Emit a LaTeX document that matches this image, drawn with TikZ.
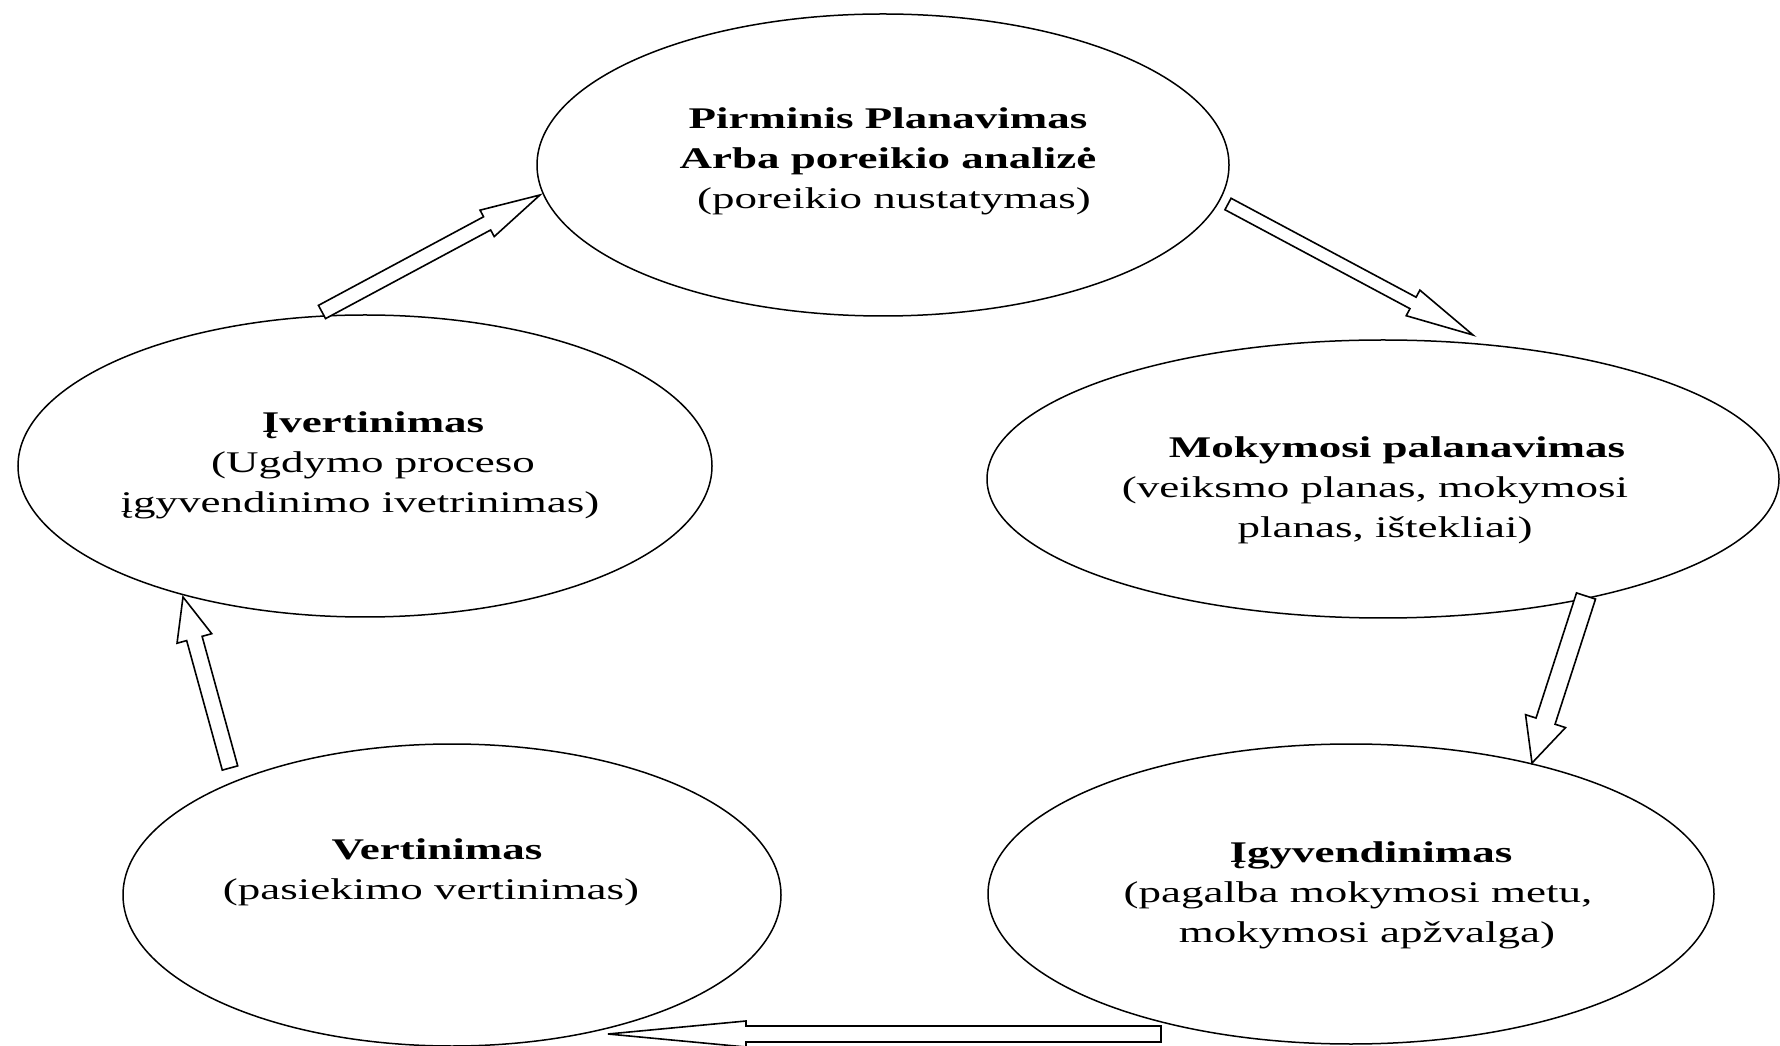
\documentclass[tikz,border=0pt]{standalone}
\usepackage{fontspec}
\setmainfont{Liberation Serif}[FakeStretch=1.5]
\usetikzlibrary{shapes.geometric,calc}
\newcommand\blockarr[5]{%
  \path ($(#2)!#5!(#1)$) coordinate (hb);
  \draw[blockarrow] ($(#1)!#3!90:(#2)$) -- ($(hb)!#3!90:(#2)$) -- ($(hb)!#4!90:(#2)$) -- (#2)
    -- ($(hb)!#4!-90:(#2)$) -- ($(hb)!#3!-90:(#2)$) -- ($(#1)!#3!-90:(#2)$) -- cycle;
}
\tikzset{
  ell/.style={ellipse, draw, line width=1.5pt, inner sep=0pt},
  txt/.style={align=center, inner sep=0pt, font=\fontsize{30}{40}\selectfont},
  blockarrow/.style={draw, line width=1.6pt, fill=white, line join=miter}
}
\begin{document}
\begin{tikzpicture}[x=1pt,y=1pt]
\fill[white] (0,0) rectangle (1780,1045);
\useasboundingbox (0,0) rectangle (1780,1045);
% ellipses
\node[ell, minimum width=692pt, minimum height=302pt] (top) at (883,880) {};
\node[ell, minimum width=694pt, minimum height=302pt] (left) at (365,579) {};
\node[ell, minimum width=792pt, minimum height=278pt] (right) at (1383,566) {};
\node[ell, minimum width=658pt, minimum height=302pt] (bl) at (452,150) {};
\node[ell, minimum width=726pt, minimum height=300pt] (br) at (1351,151) {};
% texts
\node[txt] (ttop) at (888,884) {\textbf{Pirminis Planavimas}\\\textbf{Arba poreikio analizė}\\\hspace*{12pt}(poreikio nustatymas)};
\node[txt] (tleft) at (360,580) {\hspace*{26pt}\textbf{Įvertinimas}\\\hspace*{26pt}(Ugdymo proceso\\įgyvendinimo ivetrinimas)};
\node[txt] (tright) at (1375,555) {\hspace*{44pt}\textbf{Mokymosi palanavimas}\\(veiksmo planas, mokymosi\\\hspace*{20pt}planas, ištekliai)};
\node[txt] (tbl) at (431,173) {\hspace*{12pt}\textbf{Vertinimas}\\(pasiekimo vertinimas)};
\node[txt] (tbr) at (1358,150) {\hspace*{26pt}\textbf{Įgyvendinimas}\\(pagalba mokymosi metu,\\\hspace*{18pt}mokymosi apžvalga)};
% arrow end points
\coordinate (a1t) at (322,733); \coordinate (a1h) at (540,850);
\coordinate (a2t) at (1228,841); \coordinate (a2h) at (1473,710);
\coordinate (a3t) at (1586,449); \coordinate (a3h) at (1532,282);
\coordinate (a4t) at (1161,11);  \coordinate (a4h) at (608,11);
\coordinate (a5t) at (230,277);  \coordinate (a5h) at (183,448);
\blockarr{a1t}{a1h}{7.5pt}{15pt}{60pt}
\blockarr{a2t}{a2h}{6.5pt}{14.5pt}{68pt}
\blockarr{a3t}{a3h}{10pt}{21pt}{44pt}
\blockarr{a4t}{a4h}{8pt}{13pt}{138pt}
\blockarr{a5t}{a5h}{8pt}{18pt}{43pt}
\end{tikzpicture}
\end{document}
